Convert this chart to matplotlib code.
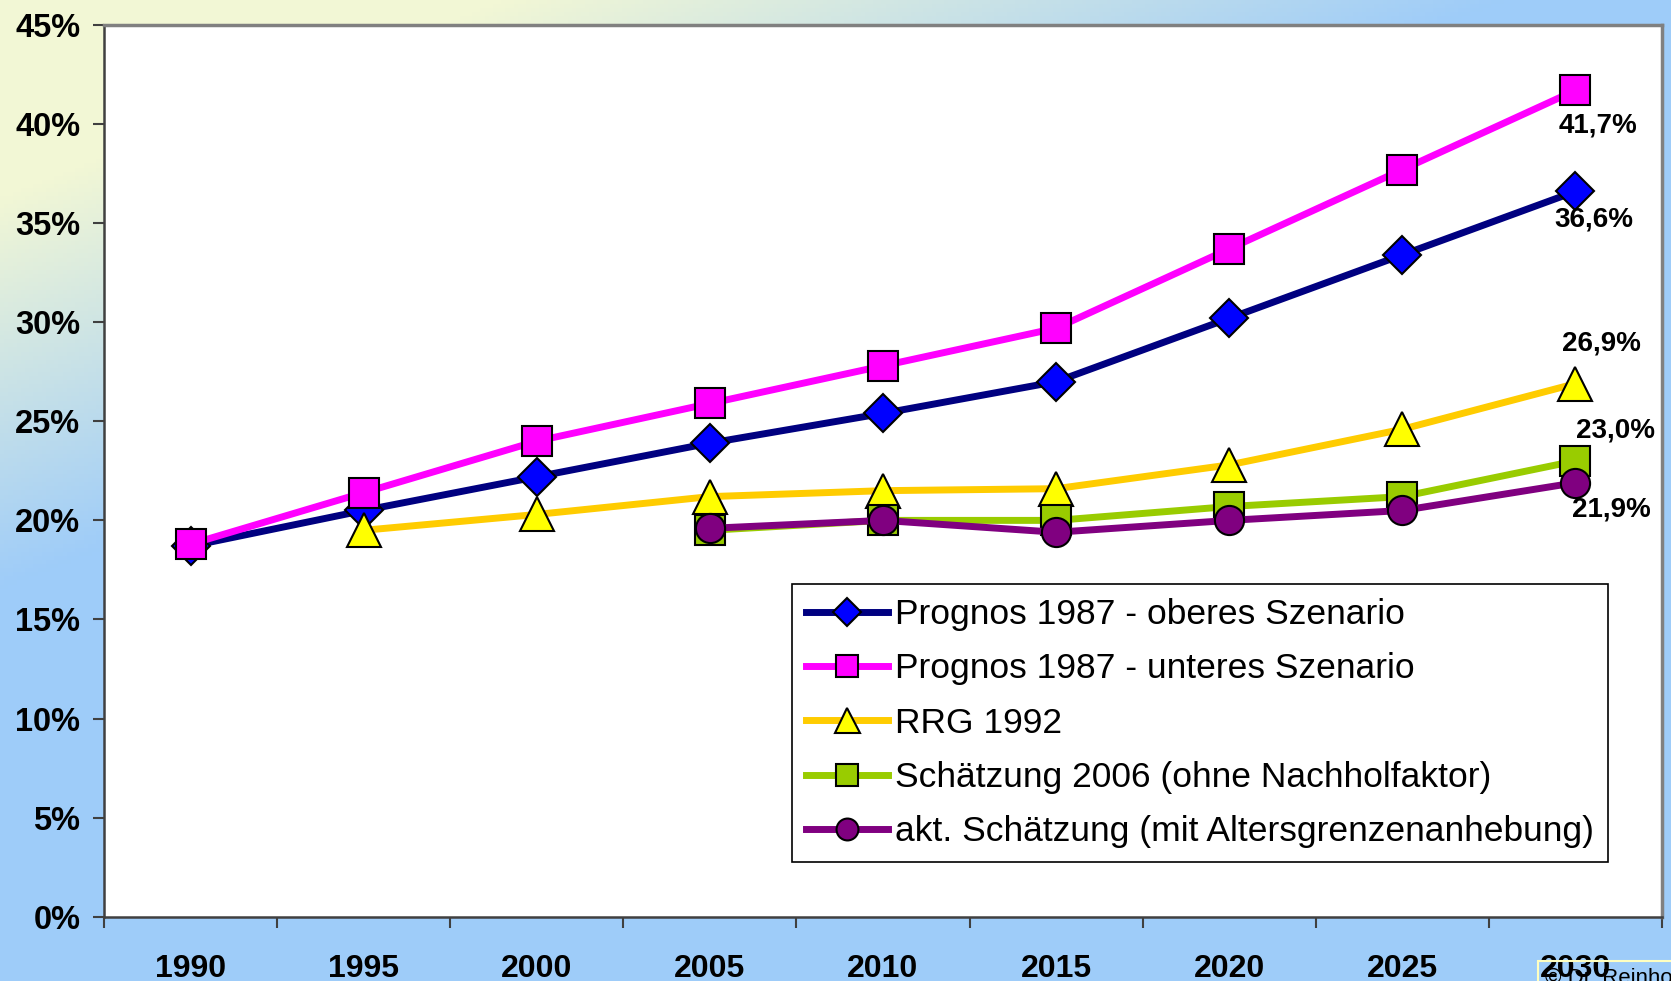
import numpy as np
import matplotlib
matplotlib.use("Agg")
import matplotlib.pyplot as plt
from matplotlib.ticker import FixedLocator, FuncFormatter

plt.rcParams['font.family'] = ['Liberation Sans', 'DejaVu Sans']

years = ['1990', '1995', '2000', '2005', '2010', '2015', '2020', '2025', '2030']
nan = np.nan

prognos_oben = [18.7, 20.5, 22.2, 23.9, 25.4, 27.0, 30.2, 33.4, 36.6]
prognos_unten = [18.8, 21.4, 24.0, 25.9, 27.8, 29.7, 33.7, 37.7, 41.7]
rrg_1992 = [nan, 19.5, 20.3, 21.2, 21.5, 21.6, 22.8, 24.6, 26.9]
schaetzung_2006 = [nan, nan, nan, 19.5, 20.0, 20.0, 20.7, 21.2, 23.0]
akt_schaetzung = [nan, nan, nan, 19.6, 20.0, 19.4, 20.0, 20.5, 21.9]

labels = ['Prognos 1987 - oberes Szenario',
          'Prognos 1987 - unteres Szenario',
          'RRG 1992',
          'Schätzung 2006 (ohne Nachholfaktor)',
          'akt. Schätzung (mit Altersgrenzenanhebung)']
end_labels = ['36,6%', '41,7%', '26,9%', '23,0%', '21,9%']

fig = plt.figure(figsize=(16.71, 9.81), dpi=100)

# gradient background
bg = fig.add_axes([0, 0, 1, 1], zorder=-10)
xx, yy = np.meshgrid(np.linspace(0, 1, 400), np.linspace(0, 1, 240))
t = np.clip((xx * 1.0 + yy * 1.5 - 0.3) / 0.6, 0, 1)[..., None]
c_top = np.array([242, 247, 213]) / 255
c_bot = np.array([158, 204, 249]) / 255
bg.imshow(c_top * (1 - t) + c_bot * t, aspect='auto', extent=[0, 1, 0, 1], origin='upper')
bg.axis('off')

ax = fig.add_axes([104 / 1671, 1 - 916.7 / 981, (1662 - 104) / 1671, (916.7 - 25) / 981])
ax.set_facecolor('white')

x = np.arange(len(years))
series = [
    (prognos_oben, '#000080', 'D', '#0000FF', 19.5),
    (prognos_unten, '#FF00FF', 's', '#FF00FF', 22),
    (rrg_1992, '#FFCC00', '^', '#FFFF00', 24),
    (schaetzung_2006, '#99CC00', 's', '#99CC00', 22),
    (akt_schaetzung, '#800080', 'o', '#800080', 21),
]
for i, (vals, lc, mk, fc, ms) in enumerate(series):
    ax.plot(x, np.array(vals) / 100, color=lc, lw=5, marker=mk, markersize=ms,
            markerfacecolor=fc, markeredgecolor='black', markeredgewidth=1.5,
            label=labels[i], zorder=3 + i, clip_on=False)

# value labels at 2030
offsets = [(13, -20), (16, -25), (19, 29), (29, 22), (26, -19)]
for i, (vals, *_rest) in enumerate(series):
    ax.annotate(end_labels[i], (x[-1], vals[-1] / 100), xytext=offsets[i],
                textcoords='offset points', ha='center', va='center',
                fontsize=20, fontweight='bold', zorder=20)

ax.set_xlim(-0.5, len(years) - 0.5)
ax.set_ylim(0, 0.45)
ax.set_yticks(np.arange(0, 0.451, 0.05))
ax.yaxis.set_major_formatter(FuncFormatter(lambda v, p: f'{v * 100:.0f}%'))
ax.xaxis.set_major_locator(FixedLocator(np.arange(-0.5, len(years), 1.0)))
ax.xaxis.set_minor_locator(FixedLocator(x))
ax.set_xticklabels([])
ax.set_xticklabels(years, minor=True)
ax.tick_params(axis='x', which='major', length=8, width=1.5, color='#404040', direction='out')
ax.tick_params(axis='x', which='minor', length=0, pad=27, labelsize=23)
ax.tick_params(axis='y', length=8, width=1.5, color='#404040', direction='out', pad=9, labelsize=23.5)
for lab in ax.get_xticklabels(minor=True) + ax.get_yticklabels():
    lab.set_fontweight('bold')

for s in ['left', 'bottom']:
    ax.spines[s].set_color('#404040')
    ax.spines[s].set_linewidth(1.8)
for s in ['top', 'right']:
    ax.spines[s].set_color('#808080')
    ax.spines[s].set_linewidth(2.5)

leg = ax.legend(loc='upper left', bbox_to_anchor=(792 / 1671, 1 - 584 / 981),
                bbox_transform=fig.transFigure, fontsize=25.5, frameon=True,
                fancybox=False, edgecolor='black', framealpha=1, borderpad=0.4,
                labelspacing=0.6, handlelength=2.3, handletextpad=0.2,
                borderaxespad=0, markerscale=0.75)
leg.get_frame().set_linewidth(1.2)
leg.set_zorder(30)

fig.text(1545 / 1671, 1 - 968 / 981, '© Dr. Reinhold Thiede', fontsize=16, va='top', ha='left',
         bbox=dict(boxstyle='square,pad=0.3', facecolor='none', edgecolor='#FFFFC0', lw=1.5))

fig.savefig('out.png', dpi=100)
